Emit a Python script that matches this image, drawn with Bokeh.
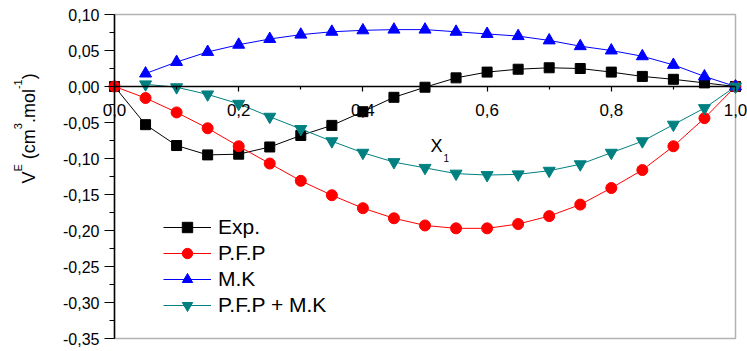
from math import pi

from bokeh.embed import file_html
from bokeh.models import BoxAnnotation, FixedTicker, Label, LinearAxis, Range1d
from bokeh.plotting import figure
from bokeh.resources import INLINE

# Mole fraction grid
x1 = [0.00, 0.05, 0.10, 0.15, 0.20, 0.25, 0.30, 0.35, 0.40, 0.45, 0.50,
      0.55, 0.60, 0.65, 0.70, 0.75, 0.80, 0.85, 0.90, 0.95, 1.00]
x1_models = x1[1:]

# Excess molar volume, cm3/mol
v_exp = [0.000, -0.053, -0.082, -0.095, -0.094, -0.084, -0.068, -0.054, -0.035, -0.015, -0.001,
         0.012, 0.020, 0.024, 0.026, 0.025, 0.020, 0.014, 0.010, 0.005, 0.000]
v_pfp = [0.000, -0.016, -0.036, -0.058, -0.083, -0.107, -0.131, -0.151, -0.169, -0.183, -0.193,
         -0.197, -0.197, -0.191, -0.180, -0.164, -0.141, -0.116, -0.083, -0.044, 0.000]
v_mk = [0.018, 0.034, 0.048, 0.058, 0.066, 0.072, 0.076, 0.078, 0.079, 0.079,
        0.076, 0.073, 0.070, 0.064, 0.056, 0.050, 0.042, 0.030, 0.014, 0.000]
v_pfp_mk = [0.003, -0.001, -0.011, -0.024, -0.042, -0.059, -0.076, -0.092, -0.105, -0.113,
            -0.121, -0.123, -0.122, -0.117, -0.108, -0.092, -0.076, -0.053, -0.030, 0.000]

# Axis ticks
y_ticks = [0.10, 0.05, 0.00, -0.05, -0.10, -0.15, -0.20, -0.25, -0.30, -0.35]
y_tick_labels = ["0,10", "0,05", "0,00", "-0,05", "-0,10", "-0,15", "-0,20", "-0,25", "-0,30", "-0,35"]
y_minor = [0.075, 0.025, -0.025, -0.075, -0.125, -0.175, -0.225, -0.275, -0.325]
x_ticks = [0.0, 0.2, 0.4, 0.6, 0.8, 1.0]
x_tick_labels = ["0,0", "0,2", "0,4", "0,6", "0,8", "1,0"]
x_minor = [0.1, 0.3, 0.5, 0.7, 0.9]

FONT = "Liberation Sans"
W, H = 747, 351
# pixel box of the axes inside the canvas
LEFT, RIGHT, TOP, BOTTOM = 114, 12, 14, 13
X0, X1 = 0.0, 1.0
Y0, Y1 = -0.35, 0.10
box_w = W - LEFT - RIGHT
box_h = H - TOP - BOTTOM
sx = (X1 - X0) / box_w      # data per pixel, x
sy = (Y1 - Y0) / box_h      # data per pixel, y


def px_x(px):
    """Canvas pixel column -> data x."""
    return X0 + (px - LEFT) * sx


def px_y(py):
    """Canvas pixel row -> data y."""
    return Y1 - (py - TOP) * sy


# The frame fills the whole canvas; the axes sit at fixed data locations
p = figure(width=W, height=H,
           x_range=Range1d(px_x(0), px_x(W)), y_range=Range1d(px_y(H), px_y(0)),
           output_backend="svg", toolbar_location=None,
           x_axis_location=None, y_axis_location=None, min_border=0)
p.grid.grid_line_color = None
p.outline_line_color = None
p.background_fill_color = "white"
p.border_fill_color = "white"

# Left axis
ya = LinearAxis(fixed_location=X0, bounds=(Y0, Y1))
ya.ticker = FixedTicker(ticks=y_ticks, minor_ticks=y_minor)
ya.major_label_overrides = dict(zip(y_ticks, y_tick_labels))
ya.axis_line_width = 1.5
ya.axis_line_color = "black"
ya.major_tick_out = 10
ya.major_tick_in = 0
ya.minor_tick_out = 5
ya.minor_tick_in = 0
ya.major_tick_line_width = 1.2
ya.minor_tick_line_width = 1.2
ya.major_label_text_font = FONT
ya.major_label_text_font_size = "16px"
ya.major_label_text_color = "black"
ya.major_label_standoff = 5
p.add_layout(ya, "left")

# X axis through y = 0
xa = LinearAxis(fixed_location=0, bounds=(X0, X1))
xa.ticker = FixedTicker(ticks=x_ticks, minor_ticks=x_minor)
xa.major_label_overrides = dict(zip(x_ticks, x_tick_labels))
xa.axis_line_width = 1.5
xa.axis_line_color = "black"
xa.major_tick_out = 5
xa.major_tick_in = 0
xa.minor_tick_out = 3
xa.minor_tick_in = 0
xa.major_tick_line_width = 1.2
xa.minor_tick_line_width = 1.2
xa.major_label_text_font = FONT
xa.major_label_text_font_size = "17px"
xa.major_label_text_color = "black"
xa.major_label_standoff = 12
p.add_layout(xa, "below")

# Axes box
p.add_layout(BoxAnnotation(left=X0, right=X1, bottom=Y0, top=Y1, fill_alpha=0,
                           line_color="black", line_width=1.5, level="underlay"))

# Series
series = [
    ("Exp.", x1, v_exp, "black", "square", 10),
    ("P.F.P", x1, v_pfp, "red", "circle", 11),
    ("M.K", x1_models, v_mk, "blue", "triangle", 12),
    ("P.F.P + M.K", x1_models, v_pfp_mk, "teal", "inverted_triangle", 12),
]
for name, xs, ys, col, mk, sz in series:
    p.line(xs, ys, line_color=col, line_width=1, legend_label=name)
    p.scatter(xs, ys, marker=mk, size=sz, fill_color=col, line_color=col, legend_label=name)

lg = p.legend[0]
lg.location = (163, H - 318)
lg.border_line_color = None
lg.background_fill_alpha = 0
lg.padding = 0
lg.margin = 0
lg.spacing = 0
lg.glyph_width = 48
lg.glyph_height = 26
lg.label_height = 26
lg.label_standoff = 7
lg.label_text_font = FONT
lg.label_text_font_size = "21px"
lg.label_text_color = "black"

# Axis titles built from pieces so that super/subscripts sit right
ADV = {"V": .667, "E": .667, " ": .278, "(": .333, "c": .5, "m": .833, "3": .556,
       ".": .278, "o": .556, "l": .222, "-": .333, "1": .556, ")": .333, "X": .667}


def adv(s, size):
    return sum(ADV[c] for c in s) * size


# Y title: V^E (cm^3.mol^-1), rotated, reading upwards.
# Each piece is anchored at its own centre so the rotation pivot is unambiguous;
# the word gap is kept as a separate advance (leading blanks collapse in SVG).
pieces = [("V", 18, 0, 0), ("E", 11, 1, 0), ("(cm", 18, 0, 5), ("3", 11, 1, 0),
          (".mol", 18, 0, 0), ("-1", 11, 1, 0), (")", 18, 0, 0)]
base_main, base_sup = 35, 21
pos = 183
for txt, size, sup, gap in pieces:
    pos -= gap
    w = adv(txt, size)
    bx = (base_sup if sup else base_main) - 0.35 * size
    p.add_layout(Label(x=px_x(bx), y=px_y(pos - w / 2), text=txt, angle=pi / 2,
                       text_align="center", text_baseline="middle",
                       text_font=FONT, text_font_size=f"{size}px", text_color="black"))
    pos -= w

# X title: X_1
p.add_layout(Label(x=px_x(430), y=px_y(145), text="X", text_align="left",
                   text_baseline="alphabetic", text_font=FONT,
                   text_font_size="18px", text_color="black"))
p.add_layout(Label(x=px_x(430 + adv("X", 18) + 1), y=px_y(157), text="1", text_align="left",
                   text_baseline="alphabetic", text_font=FONT,
                   text_font_size="10px", text_color="black"))

open("out.html", "w").write(file_html(p, INLINE))
